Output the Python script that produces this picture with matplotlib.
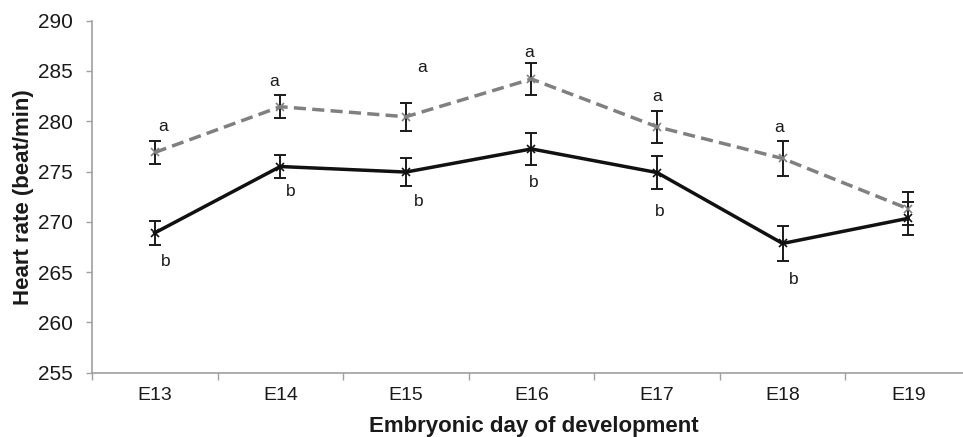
import matplotlib
matplotlib.use("Agg")
import matplotlib.pyplot as plt
import numpy as np

plt.rcParams['font.family'] = ['Liberation Sans', 'DejaVu Sans']

days = ['E13', 'E14', 'E15', 'E16', 'E17', 'E18', 'E19']

# group a (grey dashed) and group b (black solid)
rate_a = [276.9, 281.45, 280.45, 284.2, 279.45, 276.3, 271.3]
err_a = [1.1, 1.15, 1.4, 1.55, 1.6, 1.75, 1.65]
rate_b = [268.9, 275.5, 274.95, 277.25, 274.9, 267.85, 270.35]
err_b = [1.2, 1.15, 1.35, 1.55, 1.6, 1.75, 1.65]

# significance letters and where they sit (x offset from day, y value)
letters_a = ['a', 'a', 'a', 'a', 'a', 'a']
letters_a_dx = [0.07, -0.05, 0.13, -0.02, 0.0, -0.03]
letters_a_y = [279.5, 284.0, 285.3, 286.8, 282.45, 279.35]
letters_b = ['b', 'b', 'b', 'b', 'b', 'b']
letters_b_dx = [0.085, 0.08, 0.10, 0.02, 0.02, 0.09]
letters_b_y = [266.1, 273.0, 272.0, 273.9, 271.0, 264.3]

fig = plt.figure(figsize=(9.63, 4.37), dpi=100)
# axis runs past the right edge of the picture, like the cropped original
ax = fig.add_axes([0.0955, 0.1472, 0.9128, 0.8054])

x = np.arange(len(days))

ax.errorbar(x, rate_a, yerr=err_a, fmt='none', ecolor='#1a1a1a',
            elinewidth=1.4, capsize=4.5, capthick=1.4, zorder=2)
ax.errorbar(x, rate_b, yerr=err_b, fmt='none', ecolor='#1a1a1a',
            elinewidth=1.4, capsize=4.5, capthick=1.4, zorder=2)
ax.plot(x, rate_a, color='#808080', linestyle=(0, (3.5, 1.8)), linewidth=2.5,
        marker='x', markersize=6, markeredgewidth=1.2, zorder=3)
ax.plot(x, rate_b, color='#111111', linestyle='-', linewidth=2.5,
        marker='x', markersize=6, markeredgewidth=1.2, zorder=3)

for i, t in enumerate(letters_a):
    ax.text(x[i] + letters_a_dx[i], letters_a_y[i], t, ha='center', va='center',
            fontsize=12.5, color='#1a1a1a')
for i, t in enumerate(letters_b):
    ax.text(x[i] + letters_b_dx[i], letters_b_y[i], t, ha='center', va='center',
            fontsize=12.5, color='#1a1a1a')

ax.set_xlim(-0.5, 6.5)
ax.set_ylim(255, 290)
ax.set_yticks(np.arange(255, 291, 5))
ax.set_xticks(x)
ax.set_xticklabels(days)
ax.set_xticks(np.arange(-0.5, 7.0, 1.0), minor=True)
ax.tick_params(axis='x', which='major', length=0, pad=10, labelsize=14,
               labelcolor='#1a1a1a')
ax.tick_params(axis='x', which='minor', length=5, width=1, color='#a0a0a0')
ax.tick_params(axis='y', length=4.5, width=1, color='#a0a0a0', pad=9.5,
               labelsize=15, labelcolor='#1a1a1a')

for s in ['top', 'right']:
    ax.spines[s].set_visible(False)
for s in ['left', 'bottom']:
    ax.spines[s].set_color('#a0a0a0')
    ax.spines[s].set_linewidth(1.2)

fig.text(0.0244, 0.548, 'Heart rate (beat/min)', rotation=90, ha='center',
         va='center', fontsize=16, fontweight='bold', color='#1a1a1a')
fig.text(0.5545, 0.011, 'Embryonic day of development', ha='center',
         va='baseline', fontsize=16, fontweight='bold', color='#1a1a1a')

fig.savefig('out.png', dpi=100)
